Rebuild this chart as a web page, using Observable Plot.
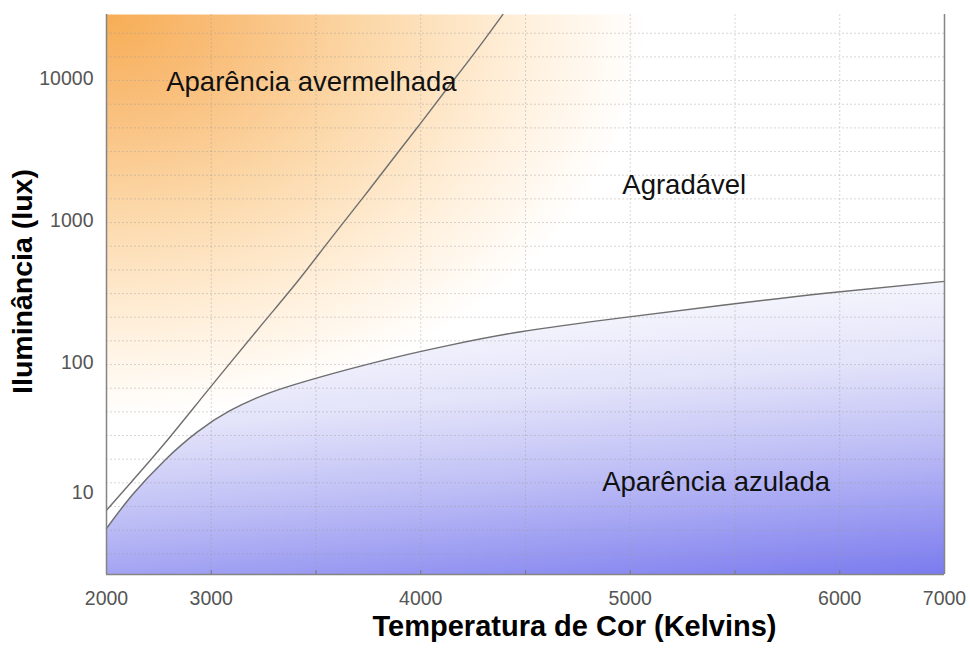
<!DOCTYPE html>
<html>
<head>
<meta charset="utf-8">
<script src="https://cdn.jsdelivr.net/npm/d3@7"></script>
<script src="https://cdn.jsdelivr.net/npm/@observablehq/plot@0.6"></script>
<style>
  html, body { margin: 0; padding: 0; background: #fff; }
  svg { display: block; }
</style>
</head>
<body>
<div id="chart"></div>
<script>
// Axis ticks
const xTicks = [2000, 3000, 4000, 5000, 6000, 7000];
const yTicks = [10, 100, 1000, 10000];
// The temperature axis is drawn on a non-uniform grid: grid cell index of each tick
const xTickCells = [0, 1, 3, 5, 7, 8];
// Dotted grid lines
const xGrid = [3000, 3500, 4000, 4500, 5000, 5500, 6000];
const yGrid = [4.642, 6.813, 10, 14.68, 21.54, 31.62, 46.42, 68.13, 100, 146.8, 215.4, 316.2,
               464.2, 681.3, 1000, 1468, 2154, 3162, 4642, 6813, 10000, 14678, 21544];
const yDomain = [3.32, 29200];

// Upper boundary (reddish appearance above)
const upperK   = [2000, 2248, 2560, 3000, 3250, 3423, 3567, 3730, 3889, 4000, 4115, 4258, 4392];
const upperLux = [9.4, 15.2, 28.1, 70.5, 198, 404, 759, 1535, 3090, 5020, 8370, 15740, 29200];

// Lower boundary (bluish appearance below)
const lowerK   = [2000, 2248, 2560, 2862, 3087, 3250, 3409, 3649, 3889, 4129, 4478, 4957, 5440, 5932, 7000];
const lowerLux = [7.0, 12.1, 21.3, 33.3, 47.1, 60.9, 73.1, 92.0, 113.3, 135.9, 170.2, 213.3, 261.6, 317.8, 385.5];

// Region labels
const regionLabels = ["Aparência avermelhada", "Agradável", "Aparência azulada"];
const regionK = [2570, 4962, 4866];
const regionLux = [9700, 1820, 14.8];

const kCell = d3.scaleLinear().domain(xTicks).range(xTickCells);

const upper = upperK.map((k, i) => ({k, lux: upperLux[i]}));
const lower = lowerK.map((k, i) => ({k, lux: lowerLux[i]}));
const regions = regionLabels.map((label, i) => ({label, k: regionK[i], lux: regionLux[i]}));
const kx = d => kCell(d.k);

const chart = Plot.plot({
  width: 970,
  height: 650,
  marginLeft: 106,
  marginRight: 26,
  marginTop: 14,
  marginBottom: 76,
  style: {fontFamily: "'Liberation Sans', Arial, sans-serif", background: "#fff", overflow: "visible"},
  x: {domain: [xTickCells[0], xTickCells[xTickCells.length - 1]], axis: null},
  y: {type: "log", domain: yDomain, axis: null},
  marks: [
    Plot.frame({fill: "url(#warm)", stroke: "none"}),
    Plot.areaY(lower, {x: kx, y1: () => yDomain[0], y2: "lux", fill: "url(#cool)", curve: "natural"}),
    Plot.ruleX(xGrid, {x: k => kCell(k), stroke: "#9a9a9a", strokeOpacity: 0.4, strokeDasharray: "2,2"}),
    Plot.ruleY(yGrid, {stroke: "#9a9a9a", strokeOpacity: 0.4, strokeDasharray: "2,2"}),
    Plot.line(upper, {x: kx, y: "lux", stroke: "#6f6f6f", strokeWidth: 1.4, curve: "natural"}),
    Plot.line(lower, {x: kx, y: "lux", stroke: "#6f6f6f", strokeWidth: 1.4, curve: "natural"}),
    Plot.ruleX([xTicks[0], xTicks[xTicks.length - 1]], {x: k => kCell(k), stroke: "#858585", strokeWidth: 1.5}),
    Plot.ruleY([yDomain[0]], {stroke: "#858585", strokeWidth: 1.5}),
    Plot.axisX({ticks: xGrid.map(k => kCell(k)), tickSize: 4, dy: -4, stroke: "#777", tickFormat: () => "", label: null}),
    Plot.axisX({ticks: xTicks.map(k => kCell(k)), tickSize: 0, tickPadding: 17, fontSize: 19.5, color: "#555", label: null,
                tickFormat: u => String(Math.round(kCell.invert(u)))}),
    Plot.axisY({ticks: yTicks.slice(1), tickSize: 0, tickPadding: 13, fontSize: 19.5, color: "#555", label: null, tickFormat: d => String(d), dy: -2}),
    Plot.axisY({ticks: yTicks.slice(0, 1), tickSize: 0, tickPadding: 13, fontSize: 19.5, color: "#555", label: null, tickFormat: d => String(d), dy: -14}),
    Plot.text(regions, {x: kx, y: "lux", text: "label", textAnchor: "start", fontSize: 27.5, fill: "#111"}),
    Plot.text(["Temperatura de Cor (Kelvins)"], {frameAnchor: "bottom", textAnchor: "middle", dx: 49, dy: 61, fontSize: 29, fontWeight: "bold", fill: "#000"}),
    Plot.text(["Iluminância (lux)"], {frameAnchor: "left", textAnchor: "middle", rotate: -90, dx: -84, dy: -13, fontSize: 28.5, fontWeight: "bold", fill: "#000"})
  ]
});

// Gradient definitions
const defs = d3.select(chart).insert("defs", ":first-child");
const warm = defs.append("radialGradient")
  .attr("id", "warm")
  .attr("gradientUnits", "userSpaceOnUse")
  .attr("cx", 106).attr("cy", 14).attr("r", 600)
  .attr("gradientTransform", "translate(106,14) scale(1,0.75) translate(-106,-14)");
[[0, "#f7ad55"], [0.2, "#f9be7a"], [0.45, "#fcd9ab"], [0.7, "#fff0dc"], [0.9, "#ffffff"]]
  .forEach(([o, c]) => warm.append("stop").attr("offset", o).attr("stop-color", c));
const cool = defs.append("linearGradient")
  .attr("id", "cool")
  .attr("gradientUnits", "userSpaceOnUse")
  .attr("x1", 944).attr("y1", 281).attr("x2", 972).attr("y2", 571);
[[0, "#f4f4fd"], [0.25, "#e3e3fa"], [0.54, "#bfbff6"], [1, "#7b7bef"]]
  .forEach(([o, c]) => cool.append("stop").attr("offset", o).attr("stop-color", c));

document.getElementById("chart").appendChild(chart);
</script>
</body>
</html>
